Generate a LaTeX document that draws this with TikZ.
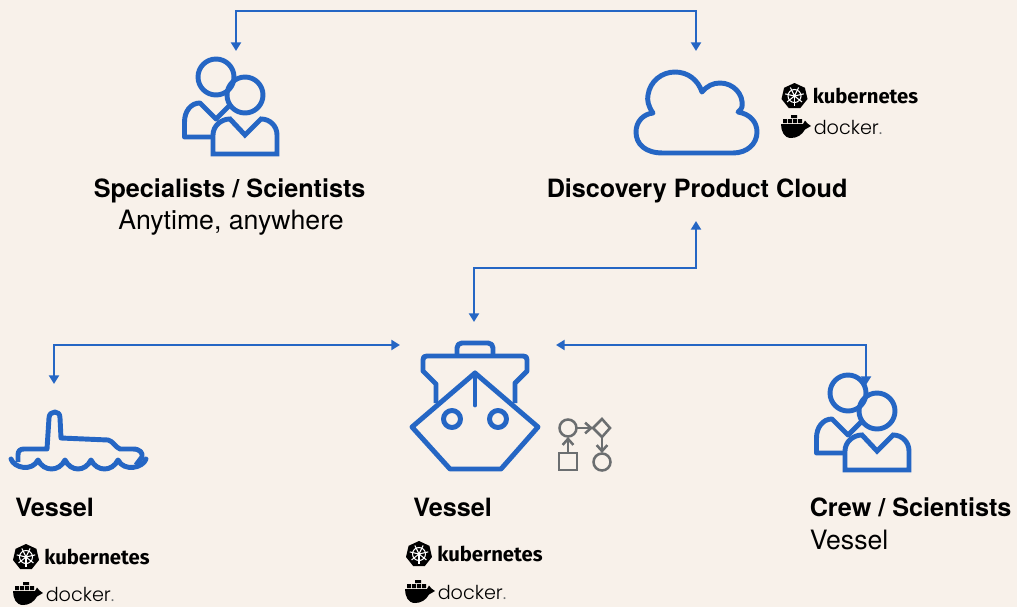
\documentclass[tikz,border=0pt]{standalone}
\usepackage{fontspec}
\usetikzlibrary{arrows.meta}
\setmainfont{TeX Gyre Heros}
\newfontfamily\kubefont{Fira Sans}
\newfontfamily\dockfont{Poppins Light}
\definecolor{bgc}{HTML}{F8F1EA}
\definecolor{blu}{HTML}{2566C4}
\definecolor{gry}{HTML}{6B6E70}
\tikzset{
  x=0.75pt,y=-0.75pt,
  icon/.style={draw=blu,line width=3.7pt,line join=round,fill=none},
  link/.style={draw=blu,line width=2.1pt,{Triangle[length=6.5pt,width=7.5pt]}-{Triangle[length=6.5pt,width=7.5pt]}},
  flow/.style={draw=gry,line width=1.9pt},
  flowtip/.style={draw=gry,line width=1.9pt,-{Straight Barb[length=4.5pt,width=8pt]}},
  head/.style={anchor=base west,font=\fontsize{18.9}{22}\selectfont\bfseries,text=black,inner sep=0pt},
  sub/.style={anchor=base west,font=\fontsize{20}{24}\selectfont,text=black,inner sep=0pt},
  pics/people/.style={code={
    \draw[icon] (33,-13) circle[radius=18];
    \draw[icon] (62,5) circle[radius=18];
    \draw[icon,miter limit=2] (30,47) -- (1.5,47) -- (1.5,32) .. controls (1.5,21) and (8,13) .. (17,13) -- (33,29) -- (46,16);
    \draw[icon,line join=miter] (30,64) -- (30,45) .. controls (30,36) and (38,29) .. (47,29) -- (62,45) -- (78,29) .. controls (87,29) and (94,36) .. (94,45) -- (94,64) -- cycle;
  }},
  pics/kubelogo/.style={code={
    \fill[black] (0,-13) -- (10.4,-8.2) -- (13,3) -- (5.8,12) -- (-5.8,12) -- (-13,3) -- (-10.4,-8.2) -- cycle;
    \draw[white,line width=.8pt] (0,0) circle[radius=6.5];
    \foreach \a in {90,141.4,192.8,244.2,295.6,347,38.6}{\draw[white,line width=.8pt] (0,0) -- (\a:9.5);}
    \fill[white] (0,0) circle[radius=1.8];
    \node[anchor=base west,inner sep=0pt,font=\fontsize{15.2}{18}\kubefont\bfseries] at (18,7) {kubernetes};
  }},
  pics/dockerlogo/.style={code={
    \fill[black] (-13,-3) -- (9,-3) -- (11,-6.5) -- (13.5,-3.5) -- (17,-1) -- (11,2.5) .. controls (8,8) and (3,11) .. (-3,11) .. controls (-10,11) and (-13,4) .. (-13,-3) -- cycle;
    \fill[black] (-11,-8) rectangle (-7,-4) (-6,-8) rectangle (-2,-4) (-1,-8) rectangle (3,-4) (4,-8) rectangle (8,-4) (-3,-12) rectangle (3,-9);
    \node[anchor=base west,inner sep=0pt,font=\fontsize{14.4}{18}\dockfont] at (19.5,7) {docker\textcolor{gry}{.}};
  }},
}
\begin{document}
\begin{tikzpicture}
\path[fill=bgc] (0,0) rectangle (1017,607);
\useasboundingbox (0,0) rectangle (1017,607);

% connector anchors
\coordinate (spec) at (236,51);
\coordinate (cloudtop) at (696,51);
\coordinate (topa) at (236,11);
\coordinate (topb) at (696,11);
\coordinate (cloudlow) at (696,221);
\coordinate (shiptop) at (474,322);
\coordinate (mida) at (696,268);
\coordinate (midb) at (474,268);
\coordinate (subtop) at (54,384);
\coordinate (shipl) at (400,345);
\coordinate (lcorn) at (54,345);
\coordinate (shipr) at (556,345);
\coordinate (crewtop) at (866,385);
\coordinate (rcorn) at (866,345);

% people
\pic (specialists) at (183,90) {people};
\pic (crew) at (815,406) {people};

% cloud
\draw[icon] (663,153) .. controls (645,153) and (636,144) .. (636,132) .. controls (636,122) and (643,114) .. (653,113)
  .. controls (648,106) and (647,100) .. (648,95) .. controls (650,81) and (662,72) .. (675,72) .. controls (688,72) and (698,80) .. (702,92)
  .. controls (707,86) and (713,83) .. (720,83) .. controls (733,83) and (744,94) .. (742,107) .. controls (741,109) and (740,111) .. (738,112)
  .. controls (750,114) and (757,122) .. (757,132) .. controls (757,144) and (747,153) .. (733,153) -- cycle;

% ship
\draw[icon] (457,355) -- (457,348) .. controls (457,345) and (459,343) .. (462,343) -- (488,343) .. controls (491,343) and (493,345) .. (493,348) -- (493,355);
\draw[icon] (436,403) -- (436,384) -- (423,371) -- (423,360) .. controls (423,357) and (424,356) .. (427,356) -- (523,356) .. controls (526,356) and (527,357) .. (527,360) -- (527,371) -- (515,383) -- (515,403);
\draw[icon] (475,373) -- (538,427) -- (501,469) -- (450,469) -- (412,427) -- cycle;
\draw[icon,line cap=round] (475,373) -- (475,405);
\draw[icon] (452,419) circle[radius=8.5];
\draw[icon] (498,419) circle[radius=8.5];

% process symbol
\draw[flow] (568,428) circle[radius=8.5];
\draw[flow] (559,453) rectangle (577,470);
\draw[flow] (602,419) -- (610,428) -- (602,437) -- (593,428) -- cycle;
\draw[flow] (602,462) circle[radius=8.5];
\draw[flowtip] (568,453) -- (568,437);
\draw[flowtip] (577,428) -- (593,428);
\draw[flowtip] (602,437) -- (602,453);

% submarine
\draw[icon] (18,462) -- (18,455) .. controls (18,451) and (20,449) .. (24,449) -- (47,449) -- (49,418) .. controls (49,414) and (52,412) .. (55,412) .. controls (58,412) and (60,414) .. (60,418) -- (61,438) -- (108,440) .. controls (113,441) and (115,447) .. (120,449) -- (133,449) .. controls (140,449) and (143,453) .. (142,457) -- (136,465);
\draw[icon,line cap=round] (11,459) .. controls (14,468) and (32,472) .. (38,460) .. controls (44,472) and (59,472) .. (65,460) .. controls (71,472) and (85,472) .. (91,460) .. controls (97,472) and (112,472) .. (118,460) .. controls (124,472) and (143,468) .. (146,459);

% connectors
\draw[link] (spec) -- (topa) -- (topb) -- (cloudtop);
\draw[link] (cloudlow) -- (mida) -- (midb) -- (shiptop);
\draw[link] (subtop) -- (lcorn) -- (shipl);
\draw[link] (shipr) -- (rcorn) -- (crewtop);

% logos
\pic (kcloud) at (794.5,96) {kubelogo};
\pic (dcloud) at (794,127) {dockerlogo};
\pic (kleft) at (26,557) {kubelogo};
\pic (dleft) at (26,594) {dockerlogo};
\pic (kmid) at (419,554) {kubelogo};
\pic (dmid) at (418,592) {dockerlogo};

% labels
\node[head] (t1) at (93.5,197) {Specialists / Scientists};
\node[sub] (t2) at (118,229) {Anytime, anywhere};
\node[head] (t3) at (546.5,197) {Discovery Product Cloud};
\node[head] (t4) at (15,516) {Vessel};
\node[head] (t5) at (413,516) {Vessel};
\node[head] (t6) at (809.5,516) {Crew / Scientists};
\node[sub] (t7) at (809.5,549) {Vessel};
\end{tikzpicture}
\end{document}
